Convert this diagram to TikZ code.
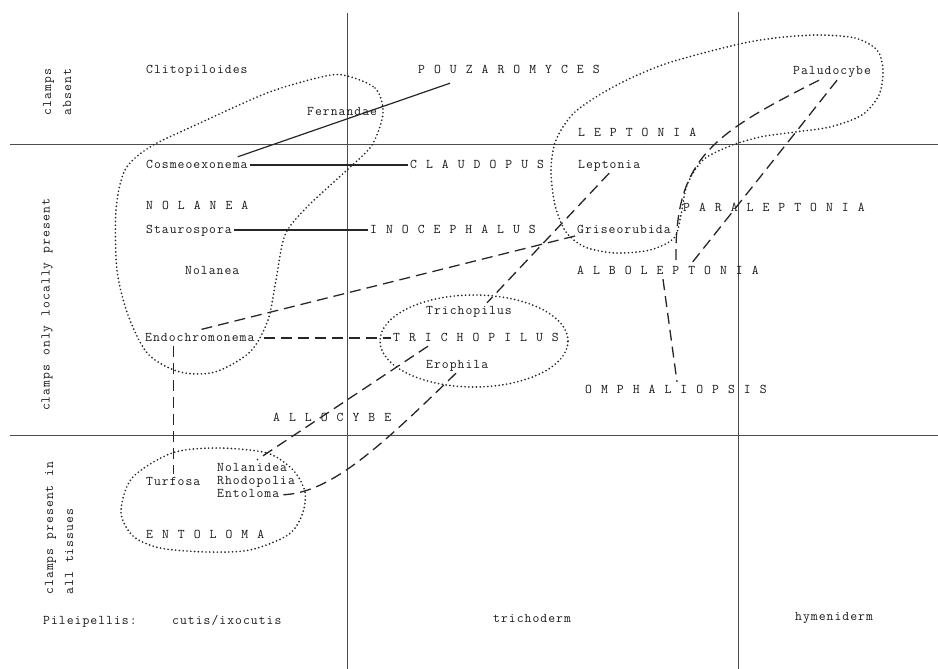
\documentclass[tikz,border=0pt]{standalone}
\usepackage{fontspec}
\newfontfamily\typew{Latin Modern Mono}[LetterSpace=7.7, WordSpace=1.146]
\usetikzlibrary{positioning}

\begin{document}
\begin{tikzpicture}[
    x = 1pt, y = -1pt, % one unit per pixel, y running down
    taxon/.style = {font=\typew\fontsize{13.3}{13}\selectfont, text=black!90,
        inner sep=2pt, anchor=west, text height=9pt, text depth=3pt},
    side/.style = {font=\typew\fontsize{13.3}{20}\selectfont, text=black!90,
        rotate=90, align=left},
    rule/.style = {black!70, line width=0.6pt}, % field borders
    link/.style = {black!85, line width=1.2pt},
    hint/.style = {black!85, line width=1.3pt, dash pattern=on 11pt off 6pt},
    ring/.style = {black!85, line width=1.9pt, line cap=round, dash pattern=on 0pt off 3.8pt}
    ]
    \useasboundingbox (0,0) rectangle (938,669);

    % fields
    \draw[rule] (10,144) -- (938,144);
    \draw[rule] (10,435) -- (938,435);
    \draw[rule] (347,13) -- (347,669);
    \draw[rule] (738,12) -- (738,669);

    % row and column captions
    \node[side] (absent) at (57,92) {clamps\\absent};
    \node[side] (local) at (47,305) {clamps only locally present};
    \node[side] (allt) at (59,528) {clamps present in\\all tissues};
    \node[taxon] (pile) at (41,621) {Pileipellis:};
    \node[taxon] (cutis) at (170,621) {cutis/ixocutis};
    \node[taxon] (trichd) at (491,619) {trichoderm};
    \node[taxon] (hymen) at (793,617) {hymeniderm};

    % taxa
    \node[taxon] (clit) at (144,71) {Clitopiloides};
    \node[taxon] (pouz) at (416,71) {P O U Z A R O M Y C E S};
    \node[taxon] (fern) at (305,112) {Fernandae};
    \node[taxon] (palu) at (791,72) {Paludocybe};
    \node[taxon] (lepG) at (576,133) {L E P T O N I A};
    \node[taxon] (cosm) at (144,165) {Cosmeoexonema};
    \node[taxon] (claud) at (408,165) {C L A U D O P U S};
    \node[taxon] (lept) at (576,165) {Leptonia};
    \node[taxon] (nolG) at (144,206) {N O L A N E A};
    \node[taxon] (paral) at (681,208) {P A R A L E P T O N I A};
    \node[taxon] (stau) at (144,230) {Staurospora};
    \node[taxon] (inoc) at (368,230) {I N O C E P H A L U S};
    \node[taxon] (gris) at (575,230) {Griseorubida};
    \node[taxon] (albo) at (575,271) {A L B O L E P T O N I A};
    \node[taxon] (nola) at (183,271) {Nolanea};
    \node[taxon] (trich) at (424,311) {Trichopilus};
    \node[taxon] (endo) at (143,338) {Endochromonema};
    \node[taxon] (trichG) at (391,338) {T R I C H O P I L U S};
    \node[taxon] (eroph) at (424,365) {Erophila};
    \node[taxon] (omph) at (583,390) {O M P H A L I O P S I S};
    \node[taxon] (allo) at (271,418) {A L L O C Y B E};
    \node[taxon] (nolan) at (215,468) {Nolanidea};
    \node[taxon] (rhodo) [below=-3pt of nolan.south west, anchor=north west] {Rhodopolia};
    \node[taxon] (ento) [below=-3pt of rhodo.south west, anchor=north west] {Entoloma};
    \node[taxon] (turf) at (144,482) {Turfosa};
    \node[taxon] (entoG) at (144,535) {E N T O L O M A};

    % genus outlines
    \draw[ring] plot[smooth cycle] coordinates {(343,75) (375,88) (383,113) (372,145)
        (347,170) (307,207) (285,235) (276,280) (268,320) (250,352) (215,372) (180,372)
        (148,354) (128,315) (117,270) (116,210) (125,170) (150,147) (200,123) (267,93) (317,78)};
    \draw[ring] plot[smooth cycle] coordinates {(817,35) (855,38) (877,50) (883,70) (879,95)
        (862,115) (830,127) (795,132) (760,137) (730,146) (703,160) (687,185) (681,215)
        (674,238) (650,250) (615,253) (585,247) (566,232) (555,205) (551,170) (556,140)
        (575,112) (615,86) (665,64) (735,45) (775,38)};
    \draw[ring] (474,341) ellipse [x radius=94pt, y radius=46pt];
    \draw[ring] plot[smooth cycle] coordinates {(217,448) (267,453) (293,470) (305,492)
        (302,515) (288,535) (250,550) (207,552) (160,548) (133,536) (121,512) (132,478) (172,453)};

    % relations
    \draw[link] ([xshift=-12pt]cosm.north east) -- ([xshift=34pt,yshift=-4pt]pouz.south west);
    \draw[link] (cosm) -- (claud);
    \draw[link] (stau) -- (inoc);

    \draw[hint] ([xshift=5pt]palu.south) -- ([xshift=117pt]albo.north west);
    \draw[hint] ([xshift=-13pt]palu.south) .. controls (710,135) and (674,160) .. ([xshift=101pt]albo.north west);
    \draw[hint] ([xshift=88pt]albo.south west) -- ([xshift=94pt]omph.north west);
    \draw[hint] (lept.south) -- ([xshift=63pt]trich.north west);
    \draw[hint] ([yshift=-6pt]gris.west) -- (endo.north);
    \draw[hint, shorten <=7pt] (endo) -- (trichG);
    \draw[hint] (turf.north |- endo.south) -- (turf.north);
    \draw[hint] ([xshift=37pt]trichG.south west) -- ([xshift=42pt]nolan.north west);
    \draw[hint] ([xshift=32pt]eroph.south west) .. controls (380,447) and (330,494) .. (ento.east);
\end{tikzpicture}
\end{document}
